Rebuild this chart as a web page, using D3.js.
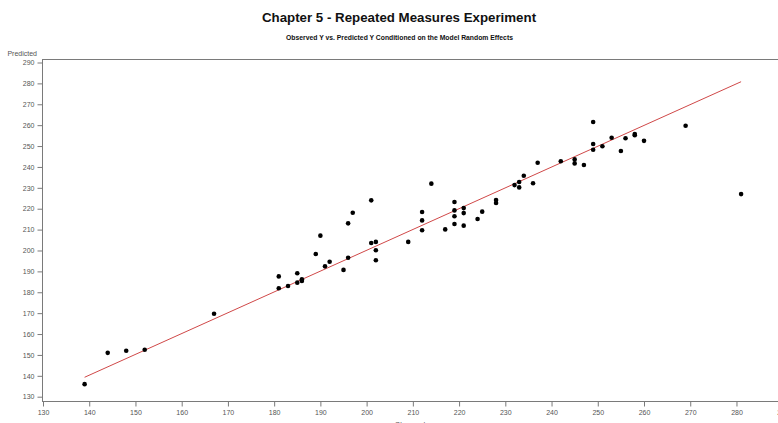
<!DOCTYPE html>
<html>
<head>
<meta charset="utf-8">
<script src="https://cdn.jsdelivr.net/npm/d3@7"></script>
<style>
  html, body { margin: 0; padding: 0; background: #fff; }
  svg { display: block; }
  text { font-family: "Liberation Sans", Arial, sans-serif; }
</style>
</head>
<body>
<svg id="chart" width="778" height="423"></svg>
<script>
// ---- Data ----
const title = "Chapter 5 - Repeated Measures Experiment";
const subtitle = "Observed Y vs. Predicted Y Conditioned on the Model Random Effects";
const yLabel = "Predicted";
const xLabel = "Observed";

const observed = [139,144,148,152,167,181,181,183,185,185,186,186,189,190,191,192,195,196,196,197,
  201,201,202,202,202,209,212,212,212,214,217,219,219,219,219,221,221,221,224,225,228,228,
  232,233,233,234,236,237,242,245,245,247,249,249,249,251,253,255,256,258,258,260,269,281];
const predicted = [136,151,152,152.5,169.7,187.6,181.9,183,189.1,184.6,186.2,185.4,198.3,207.1,192.4,194.6,190.7,213,196.5,218.1,
  224,203.6,204.1,200.1,195.3,204.1,218.4,214.4,209.7,232,210.1,223.2,219.2,216.4,212.7,220.3,217.9,211.9,215.1,218.6,224.2,222.7,
  231.3,232.8,230.2,235.8,232.2,242,242.7,243.6,241.7,240.9,261.5,251,248.2,249.9,254,247.6,253.7,255.8,255.2,252.5,259.7,227];

const fitX = [139, 281];
const fitY = [139.3, 280.8];

const xTicks = [130,140,150,160,170,180,190,200,210,220,230,240,250,260,270,280,290];
const yTicks = [130,140,150,160,170,180,190,200,210,220,230,240,250,260,270,280,290];

// ---- Layout ----
const svg = d3.select("#chart");
const W = 778, H = 423;
const axisColor = "#7a7a7a";
const tickTextColor = "#555";

const x = d3.scaleLinear().domain([130, 290]).range([43, 782.7]);
const y = d3.scaleLinear().domain([130, 290]).range([396.7, 62.5]);

const plotLeft = 42, plotTop = 59, plotBottom = 401;

// Titles
svg.append("text").attr("x", 399).attr("y", 22).attr("text-anchor", "middle")
  .attr("font-size", 13.3).attr("font-weight", "bold").attr("fill", "#111").text(title);
svg.append("text").attr("x", 399.5).attr("y", 39.5).attr("text-anchor", "middle")
  .attr("font-size", 6.8).attr("font-weight", "bold").attr("fill", "#111").text(subtitle);

// Frame lines
svg.append("line").attr("x1", plotLeft).attr("x2", W).attr("y1", plotTop + 0.5).attr("y2", plotTop + 0.5)
  .attr("stroke", axisColor).attr("stroke-width", 1);

// Y axis
const yMinor = d3.range(130, 291, 2);
const yAxis = d3.axisLeft(y).tickValues(yTicks).tickSize(5).tickPadding(3).tickFormat(d3.format("d"));
const gy = svg.append("g").attr("transform", `translate(${plotLeft + 0.5},0)`);
gy.call(d3.axisLeft(y).tickValues(yMinor).tickSize(3).tickFormat(""));
gy.call(yAxis);
gy.select(".domain").attr("d", `M0,${plotTop}V${plotBottom}`);
gy.selectAll("path, line").attr("stroke", axisColor);
gy.selectAll("text").attr("font-size", 7).attr("fill", tickTextColor)
  .attr("font-family", "'Liberation Sans', Arial, sans-serif");

// X axis
const xMinor = d3.range(130, 291, 2);
const xAxis = d3.axisBottom(x).tickValues(xTicks).tickSize(5).tickPadding(4).tickFormat(d3.format("d"));
const gx = svg.append("g").attr("transform", `translate(0,${plotBottom + 0.5})`);
gx.call(d3.axisBottom(x).tickValues(xMinor).tickSize(3).tickFormat(""));
gx.call(xAxis);
gx.select(".domain").attr("d", `M${plotLeft},0H${W}`);
gx.selectAll("path, line").attr("stroke", axisColor);
gx.selectAll("text").attr("font-size", 7).attr("fill", tickTextColor)
  .attr("font-family", "'Liberation Sans', Arial, sans-serif");

// Axis labels
svg.append("text").attr("x", 37).attr("y", 55.5).attr("text-anchor", "end")
  .attr("font-size", 7).attr("fill", tickTextColor).text(yLabel);
svg.append("text").attr("x", 410).attr("y", 427).attr("text-anchor", "middle")
  .attr("font-size", 7).attr("fill", tickTextColor).text(xLabel);

// Fit line
svg.append("line")
  .attr("x1", x(fitX[0])).attr("y1", y(fitY[0]))
  .attr("x2", x(fitX[1])).attr("y2", y(fitY[1]))
  .attr("stroke", "#d04848").attr("stroke-width", 1);

// Points
svg.append("g").selectAll("circle")
  .data(observed.map((o, i) => [o, predicted[i]]))
  .join("circle")
  .attr("cx", d => x(d[0]))
  .attr("cy", d => y(d[1]))
  .attr("r", 2.3)
  .attr("fill", "#000");
</script>
</body>
</html>
